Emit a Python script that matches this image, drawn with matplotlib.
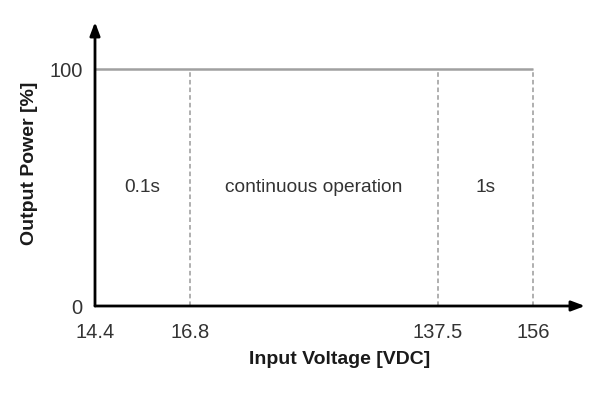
import numpy as np
import matplotlib
matplotlib.use("Agg")
import matplotlib.pyplot as plt
from matplotlib import font_manager

# ---- data ----
voltage_ticks = [14.4, 16.8, 137.5, 156]
tick_labels = ["14.4", "16.8", "137.5", "156"]
boundaries = [16.8, 137.5, 156]          # dashed region boundaries
power_level = [100, 100]                 # output power across range
power_span = [14.4, 156]
region_labels = ["0.1s", "continuous operation", "1s"]
region_centers = [15.6, 77.15, 146.75]
y_ticks = [0, 100]

# ---- layout: non-linear axis positions (in px from origin) ----
tick_pos = [0, 95, 343, 438]

def fwd(v):
    v = np.asarray(v, dtype=float)
    out = np.interp(v, voltage_ticks, tick_pos)
    s_hi = (tick_pos[-1] - tick_pos[-2]) / (voltage_ticks[-1] - voltage_ticks[-2])
    s_lo = (tick_pos[1] - tick_pos[0]) / (voltage_ticks[1] - voltage_ticks[0])
    out = np.where(v > voltage_ticks[-1], tick_pos[-1] + (v - voltage_ticks[-1]) * s_hi, out)
    out = np.where(v < voltage_ticks[0], tick_pos[0] + (v - voltage_ticks[0]) * s_lo, out)
    return out

def inv(p):
    p = np.asarray(p, dtype=float)
    out = np.interp(p, tick_pos, voltage_ticks)
    s_hi = (voltage_ticks[-1] - voltage_ticks[-2]) / (tick_pos[-1] - tick_pos[-2])
    s_lo = (voltage_ticks[1] - voltage_ticks[0]) / (tick_pos[1] - tick_pos[0])
    out = np.where(p > tick_pos[-1], voltage_ticks[-1] + (p - tick_pos[-1]) * s_hi, out)
    out = np.where(p < tick_pos[0], voltage_ticks[0] + (p - tick_pos[0]) * s_lo, out)
    return out

names = {f.name for f in font_manager.fontManager.ttflist}
fam = [n for n in ["Liberation Sans Narrow", "Liberation Sans", "DejaVu Sans"] if n in names]
plt.rcParams['font.family'] = fam

fig = plt.figure(figsize=(6, 3.94), dpi=100)
ax = fig.add_axes([95/600, 1-306/394, 490/600, 284/394])
ax.set_xscale('function', functions=(fwd, inv))
ax.set_xlim(14.4, float(inv(490)))
ax.set_ylim(0, 120)

for s in ax.spines.values():
    s.set_visible(False)

# 100% line
ax.plot(power_span, power_level, color="#a0a0a0", lw=1.8, solid_capstyle='butt', zorder=2)
# dashed boundaries
for b in boundaries:
    ax.plot([b, b], [0, 100], color="#9a9a9a", lw=1.1, ls=(0, (3, 2)), zorder=2)

# region labels
for x, t in zip(region_centers, region_labels):
    ax.text(x, 50, t, ha='center', va='center', fontsize=13.8, color="#333333")

# axes arrows
arrow = dict(arrowstyle='-|>,head_length=0.8,head_width=0.3', color='black', lw=2, shrinkA=0, shrinkB=0)
ax.annotate('', xy=(1, 0), xytext=(0, 0), xycoords='axes fraction', textcoords='axes fraction', arrowprops=arrow, annotation_clip=False)
ax.annotate('', xy=(0, 1), xytext=(0, 0), xycoords='axes fraction', textcoords='axes fraction', arrowprops=arrow, annotation_clip=False)

ax.set_xticks(voltage_ticks)
ax.set_xticklabels(tick_labels)
ax.set_yticks(y_ticks)
ax.set_yticklabels([str(v) for v in y_ticks])
ax.tick_params(axis='both', length=0, labelsize=14.5, colors="#333333")
ax.tick_params(axis='x', pad=12)
ax.tick_params(axis='y', pad=9)
ax.minorticks_off()

ax.set_xlabel("Input Voltage [VDC]", fontsize=14, fontweight='bold', color="#1a1a1a")
ax.xaxis.set_label_coords(245/490, -45/284)
ax.set_ylabel("Output Power [%]", fontsize=14, fontweight='bold', color="#1a1a1a")
ax.yaxis.set_label_coords(-57/490, (306-163)/284)

fig.savefig("out.png", dpi=100)
